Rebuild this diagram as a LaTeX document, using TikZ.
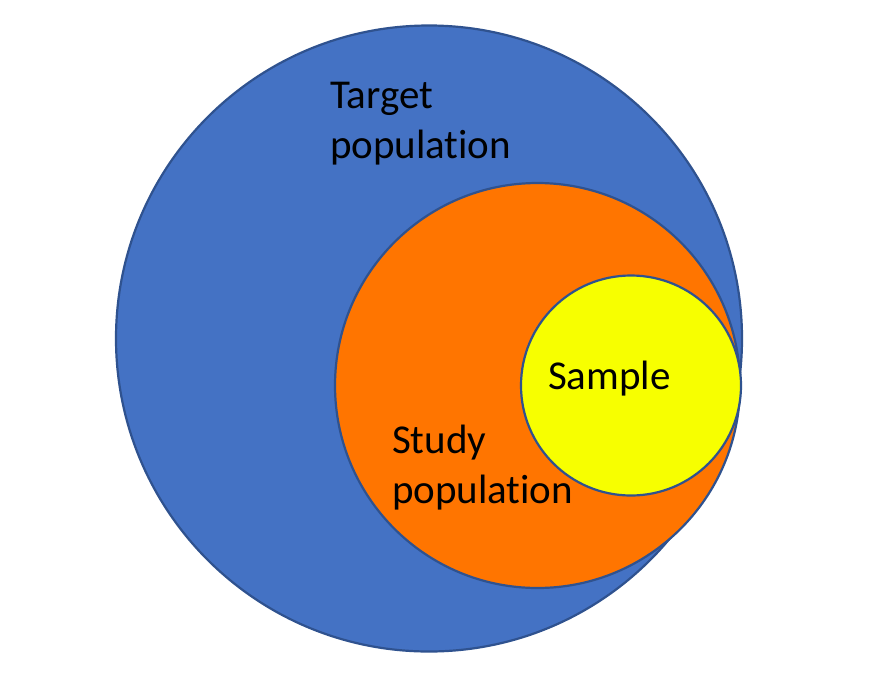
\documentclass[tikz,border=0pt]{standalone}
\usepackage{fontspec}
\setmainfont[Ligatures={NoCommon,NoRequired}]{Carlito}
\definecolor{tblue}{HTML}{4472C4}
\definecolor{torange}{HTML}{FF7500}
\definecolor{tyellow}{HTML}{F7FF00}
\definecolor{tedge}{HTML}{2F528F}
\begin{document}
\begin{tikzpicture}[x=1pt,y=-1pt,
  ring/.style={draw=tedge,line width=2.2pt},
  lbl/.style={inner sep=0pt,outer sep=0pt,align=left,font=\fontsize{41}{50}\selectfont,text=black}]
\useasboundingbox (0,0) rectangle (889,697);
\fill[white] (0,0) rectangle (889,697);
\path[ring,fill=tblue] (429,338.5) circle[radius=313pt];
\path[ring,fill=torange] (537.5,385.5) circle[radius=202.5pt];
\path[ring,fill=tyellow] (631,385.5) circle[radius=110pt];
\node[lbl,anchor=north west] (target) at (330,82) {Target\\population};
\node[lbl,anchor=north west] (study) at (392,425) {Study\\population};
\node[lbl,anchor=base west] (sample) at (548,389) {Sample};
\end{tikzpicture}
\end{document}
